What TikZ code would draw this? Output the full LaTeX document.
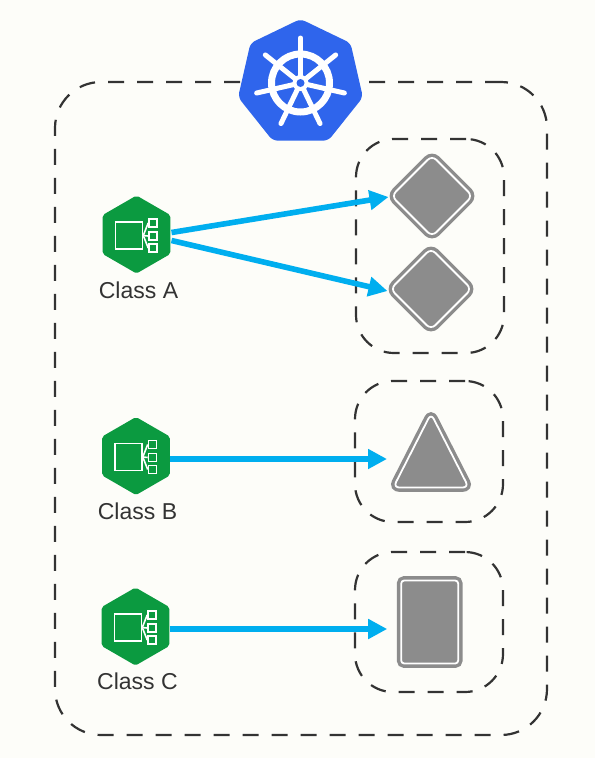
\documentclass[tikz,border=0pt]{standalone}
\usepackage{fontspec}
\setmainfont{Liberation Sans}
\usepackage{tikz}
\usetikzlibrary{arrows.meta,calc,shapes.geometric}

\definecolor{paper}{HTML}{FDFDF9}
\definecolor{helm}{HTML}{2F65EC}
\definecolor{podgreen}{HTML}{0B9A40}
\definecolor{flowblue}{HTML}{00AEEF}
\definecolor{podgray}{HTML}{8C8C8C}
\definecolor{dashgray}{HTML}{333333}

\tikzset{
  dashbox/.style={rectangle, draw=dashgray, line width=2.2pt, rounded corners=38pt, %
                  dash pattern=on 16pt off 13pt, inner sep=0, outer sep=0, anchor=north west},
  classhex/.style={regular polygon, regular polygon sides=6, shape border rotate=30, %
                   fill=podgreen, minimum size=78pt, inner sep=0, rounded corners=2pt},
  classlabel/.style={text=dashgray, font=\fontsize{23}{25}\selectfont, inner sep=0},
  iconpart/.style={rectangle, draw=white, line width=1.6pt, inner sep=0},
  podshape/.style={draw=podgray, fill=podgray, line width=3.4pt, double=white, %
                   double distance=1.8pt, inner sep=0, outer sep=0},
  flow/.style={draw=flowblue, line width=5.6pt, -{Triangle[length=19pt,width=19pt]}},
}

\begin{document}
\begin{tikzpicture}[x=1pt, y=-1pt]
  \fill[paper] (0,0) rectangle (595,758);
%
  \node[dashbox, minimum width=492, minimum height=653, rounded corners=46pt] (Cluster) at (55,82) {};
  \node[regular polygon, regular polygon sides=7, fill=helm, minimum size=128pt, %
        inner sep=0, rounded corners=5pt] (Helm) at (300.5,83) {};
%
  % ship wheel of the logo
  \draw[white, line width=7pt] (Helm.center) circle (29pt);
  \foreach \k in {0,...,6} {
    \draw[white, line width=5pt, line cap=round] (Helm.center) -- +(90+\k*51.43:45pt);
  }
  \fill[white] (Helm.center) circle (8pt);
  \fill[helm] (Helm.center) circle (4pt);
%
  \node[dashbox, minimum width=148, minimum height=214] (GroupA) at (356,139) {};
  \node[dashbox, minimum width=148, minimum height=141] (GroupB) at (355,381) {};
  \node[dashbox, minimum width=148, minimum height=140] (GroupC) at (355,552) {};
%
  \node[podshape, diamond, aspect=1, minimum width=81, minimum height=81, rounded corners=6pt] (PodA) at (432,196) {};
  \node[podshape, diamond, aspect=1, minimum width=81, minimum height=81, rounded corners=6pt] (PodAA) at (431,289) {};
  \node[podshape, isosceles triangle, isosceles triangle apex angle=54, shape border rotate=90, %
        minimum height=74, anchor=lower side, rounded corners=6pt] (PodB) at (431,487.5) {};
  \node[podshape, rectangle, minimum width=57, minimum height=83, rounded corners=3pt] (PodC) at (429.7,622) {};
%
  \foreach \name/\px/\py/\txt/\lx/\ly in {ClassA/136.5/234.5/Class A/138.5/290,
                                          ClassB/136/456/Class B/137.5/511,
                                          ClassC/135.5/626.5/Class C/137.5/681} {
    \node[classhex] (\name) at (\px,\py) {};
    \node[classlabel] (\name Label) at (\lx,\ly) {\txt};
    \node[iconpart, minimum size=27pt] (\name Box) at ($(\name.center)+(-7.5,1)$) {};
    \foreach \row/\dy in {1/-11.5,2/1.5,3/13.5} {
      \node[iconpart, minimum size=8pt] (\name Leaf\row) at ($(\name.center)+(16.5,\dy)$) {};
      \draw[white, line width=1.6pt] (\name Box.east) -- (\name Leaf\row.west);
    }
  }
%
  \draw[flow] ($(ClassA.center)+(35,-2)$) -- ($(PodA.west)+(-3,1)$);
  \draw[flow] ($(ClassA.center)+(35,6)$) -- ($(PodAA.west)+(-3,2)$);
  \draw[flow] ($(ClassB.center)+(34,3)$) -- ($(PodB.lower side)+(-44,-28.5)$);
  \draw[flow] ($(ClassC.center)+(34,2.5)$) -- ($(PodC.west)+(-14,7)$);
\end{tikzpicture}
\end{document}
